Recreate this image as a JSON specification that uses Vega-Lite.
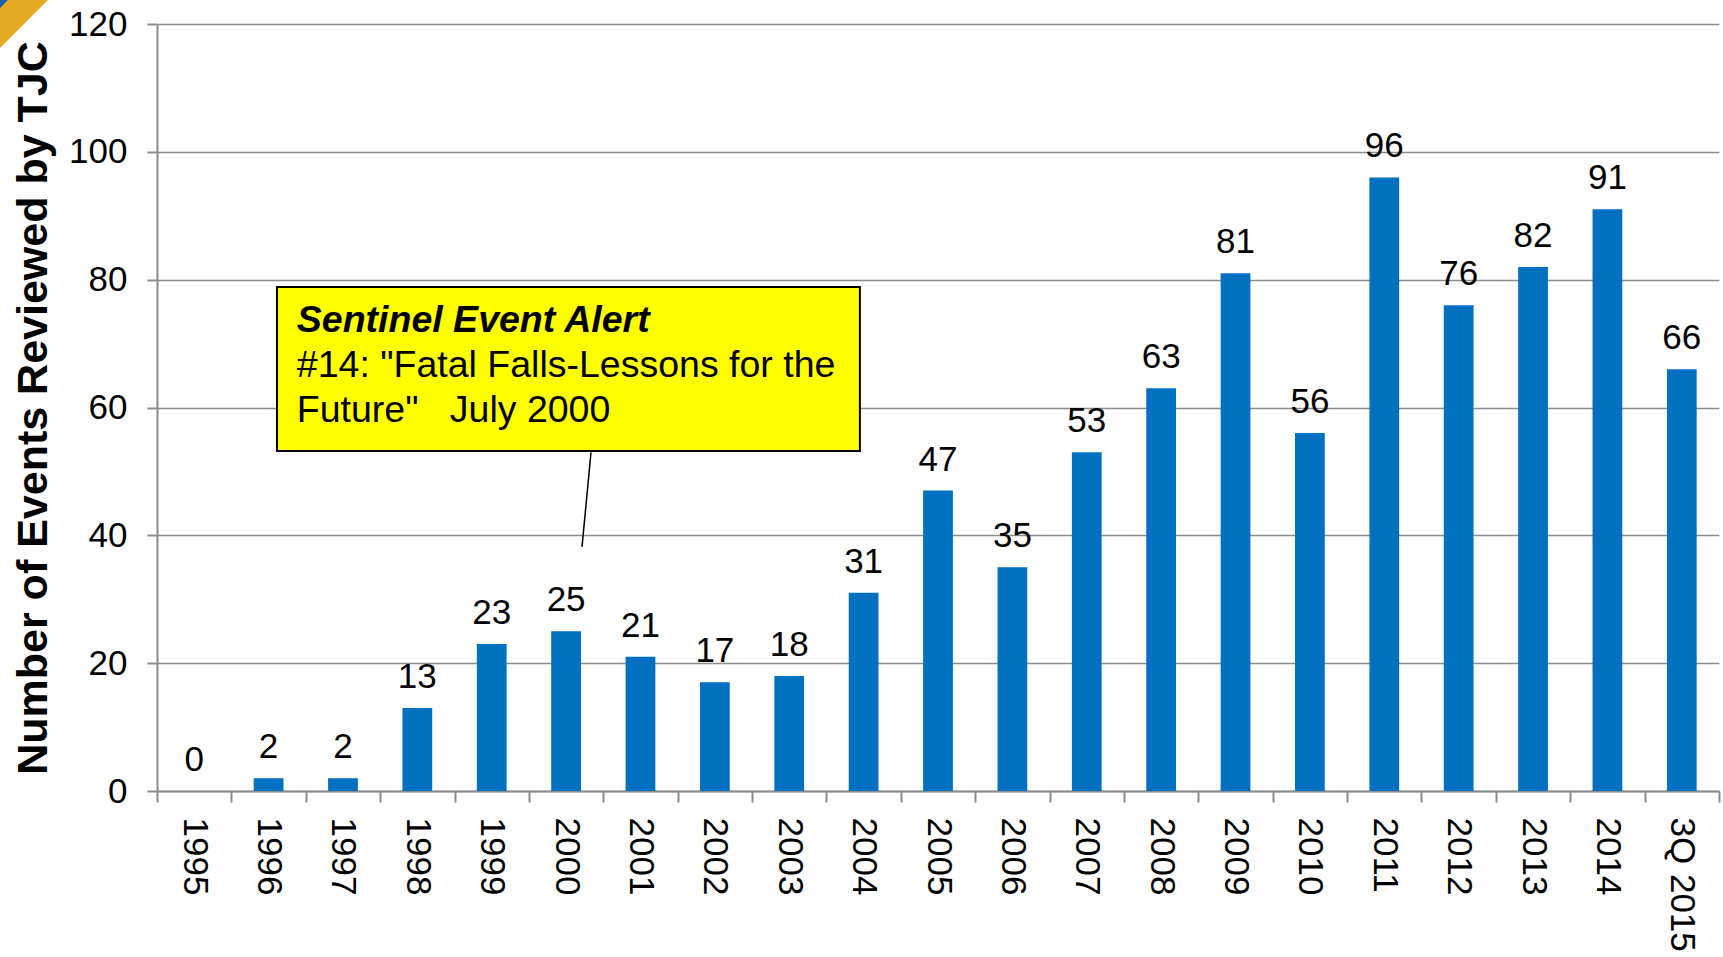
{
  "$schema": "https://vega.github.io/schema/vega-lite/v6.json",
  "width": 1562,
  "height": 767,
  "autosize": {"type": "none"},
  "padding": {"left": 157, "top": 24, "right": 4, "bottom": 166},
  "background": "white",
  "config": {
    "view": {"stroke": null},
    "font": "Liberation Sans",
    "axis": {"gridColor": "#8c8c8c", "gridWidth": 1.5, "domainColor": "#8c8c8c", "domainWidth": 2, "tickColor": "#8c8c8c", "tickWidth": 2, "labelFont": "Liberation Sans", "labelFontSize": 35, "labelColor": "black", "titleFont": "Liberation Sans", "titleColor": "black"}
  },
  "resolve": {"scale": {"x": "independent"}},
  "layer": [
    {
      "data": {"values": [
        {"year": "1995", "events": 0},
        {"year": "1996", "events": 2},
        {"year": "1997", "events": 2},
        {"year": "1998", "events": 13},
        {"year": "1999", "events": 23},
        {"year": "2000", "events": 25},
        {"year": "2001", "events": 21},
        {"year": "2002", "events": 17},
        {"year": "2003", "events": 18},
        {"year": "2004", "events": 31},
        {"year": "2005", "events": 47},
        {"year": "2006", "events": 35},
        {"year": "2007", "events": 53},
        {"year": "2008", "events": 63},
        {"year": "2009", "events": 81},
        {"year": "2010", "events": 56},
        {"year": "2011", "events": 96},
        {"year": "2012", "events": 76},
        {"year": "2013", "events": 82},
        {"year": "2014", "events": 91},
        {"year": "3Q 2015", "events": 66}
      ]},
      "encoding": {
        "x": {"field": "year", "type": "nominal", "sort": null,
          "scale": {"paddingInner": 0, "paddingOuter": 0},
          "axis": {"title": null, "labelAngle": 90, "labelAlign": "left", "labelBaseline": "middle", "labelPadding": 15, "tickSize": 11, "tickBand": "extent", "grid": false, "labelOverlap": false}},
        "y": {"field": "events", "type": "quantitative",
          "scale": {"domain": [0, 120], "nice": false},
          "axis": {"title": "Number of Events Reviewed by TJC", "titleFontSize": 43, "titleFontWeight": "bold", "titlePadding": 13, "values": [0, 20, 40, 60, 80, 100, 120], "tickSize": 10, "labelPadding": 20, "grid": true}}
      },
      "layer": [
        {"mark": {"type": "bar", "color": "#0070C0", "width": {"band": 0.4}}},
        {"mark": {"type": "text", "baseline": "alphabetic", "dy": -20, "fontSize": 35, "color": "black", "font": "Liberation Sans"},
         "encoding": {"text": {"field": "events", "type": "quantitative"}}}
      ]
    },
    {
      "data": {"values": [{"a": 1}]},
      "layer": [
        {"mark": {"type": "rule", "color": "black", "strokeWidth": 1.5},
         "encoding": {
           "x": {"datum": 5.835, "type": "quantitative", "scale": {"domain": [0, 21], "nice": false, "zero": false}, "axis": null},
           "x2": {"datum": 5.714},
           "y": {"datum": 53.0, "type": "quantitative"},
           "y2": {"datum": 38.2}
         }},
        {"mark": {"type": "rect", "fill": "#FFFF00", "stroke": "black", "strokeWidth": 2},
         "encoding": {
           "x": {"datum": 1.613, "type": "quantitative"},
           "x2": {"datum": 9.45},
           "y": {"datum": 78.85, "type": "quantitative"},
           "y2": {"datum": 53.2}
         }},
        {"mark": {"type": "text", "align": "left", "baseline": "alphabetic", "fontSize": 37.5, "fontWeight": "bold", "fontStyle": "italic", "color": "black", "font": "Liberation Sans"},
         "encoding": {
           "x": {"datum": 1.88, "type": "quantitative"},
           "y": {"datum": 71.8, "type": "quantitative"},
           "text": {"value": "Sentinel Event Alert"}
         }},
        {"mark": {"type": "text", "align": "left", "baseline": "alphabetic", "fontSize": 37.5, "lineHeight": 45, "color": "black", "font": "Liberation Sans"},
         "encoding": {
           "x": {"datum": 1.88, "type": "quantitative"},
           "y": {"datum": 64.8, "type": "quantitative"},
           "text": {"value": ["#14: \"Fatal Falls-Lessons for the", "Future\"\u00a0\u00a0 July 2000"]}
         }},
        {"mark": {"type": "point", "filled": true, "opacity": 1, "color": "#E5AA24", "shape": "M0,0L2,0L0,2Z", "size": 2304, "strokeWidth": 0},
         "encoding": {
           "x": {"datum": -2.111, "type": "quantitative"},
           "y": {"datum": 123.76, "type": "quantitative"}
         }},
        {"mark": {"type": "point", "filled": true, "opacity": 1, "color": "#1F5BA6", "shape": "M0,0L2,0L0,2Z", "size": 64, "strokeWidth": 0},
         "encoding": {
           "x": {"datum": -2.111, "type": "quantitative"},
           "y": {"datum": 123.76, "type": "quantitative"}
         }}
      ]
    }
  ]
}
